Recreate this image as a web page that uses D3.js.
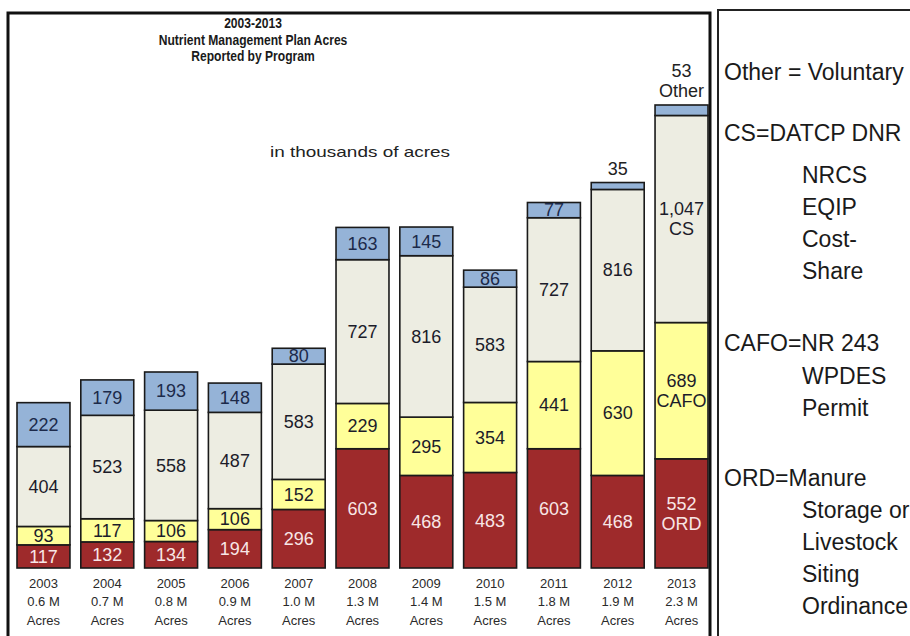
<!DOCTYPE html>
<html>
<head>
<meta charset="utf-8">
<script src="https://cdn.jsdelivr.net/npm/d3@7"></script>
<style>
body { margin: 0; background: #fff; }
svg { display: block; }
</style>
</head>
<body>
<svg></svg>
<script>
var years = ["2003", "2004", "2005", "2006", "2007", "2008", "2009", "2010", "2011", "2012", "2013"];
var acreLabels = ["0.6 M", "0.7 M", "0.8 M", "0.9 M", "1.0 M", "1.3 M", "1.4 M", "1.5 M", "1.8 M", "1.9 M", "2.3 M"];
var ord   = [117, 132, 134, 194, 296, 603, 468, 483, 603, 468, 552];
var cafo  = [93, 117, 106, 106, 152, 229, 295, 354, 441, 630, 689];
var cs    = [404, 523, 558, 487, 583, 727, 816, 583, 727, 816, 1047];
var other = [222, 179, 193, 148, 80, 163, 145, 86, 77, 35, 53];
var seriesKeys = ["ORD", "CAFO", "CS", "Other"];
var taggedYear = "2013";
var titleLines = ["2003-2013", "Nutrient Management Plan Acres", "Reported by Program"];
var unitNote = "in thousands of acres";
var legendGroups = [
    ["Other = Voluntary"],
    ["CS=DATCP DNR", "NRCS", "EQIP", "Cost-", "Share"],
    ["CAFO=NR 243", "WPDES", "Permit"],
    ["ORD=Manure", "Storage or", "Livestock", "Siting", "Ordinance"]
];

var width = 910, height = 636;
var colors = { ORD: "#9e2a2b", CAFO: "#ffff99", CS: "#ededE2", Other: "#95b3d7" };
var textColors = { ORD: "#f8e6e6", CAFO: "#1c1c2a", CS: "#1c1c2a", Other: "#1c2a4a" };
var sans = "'Liberation Sans', Arial, sans-serif";

var svg = d3.select("svg")
    .attr("width", width)
    .attr("height", height);

// panels
svg.append("rect")
    .attr("x", 8).attr("y", 13)
    .attr("width", 702).attr("height", 650)
    .attr("fill", "none").attr("stroke", "#111").attr("stroke-width", 3);

svg.append("rect")
    .attr("x", 718).attr("y", 10)
    .attr("width", 220).attr("height", 650)
    .attr("fill", "none").attr("stroke", "#222").attr("stroke-width", 2);

// build table for the stack
var table = years.map(function (y, i) {
    return { year: y, ORD: ord[i], CAFO: cafo[i], CS: cs[i], Other: other[i] };
});

var stacked = d3.stack().keys(seriesKeys)(table);
var maxTotal = d3.max(table, function (d) { return d.ORD + d.CAFO + d.CS + d.Other; });

var xScale = d3.scaleBand()
    .domain(years)
    .range([17, 708])
    .paddingInner(0.17)
    .paddingOuter(0);

var yScale = d3.scaleLinear()
    .domain([0, maxTotal])
    .range([568, 105]);

var fmt = d3.format(",");

var layers = svg.selectAll("g.layer")
    .data(stacked)
    .enter()
    .append("g")
    .attr("class", "layer");

layers.selectAll("rect")
    .data(function (s) { return s.map(function (d) { return { key: s.key, d: d }; }); })
    .enter()
    .append("rect")
    .attr("x", function (p) { return xScale(p.d.data.year); })
    .attr("width", xScale.bandwidth())
    .attr("y", function (p) { return yScale(p.d[1]); })
    .attr("height", function (p) { return yScale(p.d[0]) - yScale(p.d[1]); })
    .attr("fill", function (p) { return colors[p.key]; })
    .attr("stroke", "#1a1a1a")
    .attr("stroke-width", 1.6);

// segment labels
layers.each(function (s) {
    var g = d3.select(this);
    s.forEach(function (d) {
        var v = d.data[s.key];
        var cx = xScale(d.data.year) + xScale.bandwidth() / 2;
        var top = yScale(d[1]), bot = yScale(d[0]);
        var lines = [fmt(v)];
        if (d.data.year === taggedYear) lines.push(s.key);
        var above = v < 60;
        var lh = 20;
        var cy = above ? top - 6 - (lines.length - 1) * lh - 8 : (top + bot) / 2 - (lines.length - 1) * lh / 2;
        var t = g.append("text")
            .attr("text-anchor", "middle")
            .attr("font-family", sans)
            .attr("font-size", 18)
            .attr("fill", above ? "#222" : textColors[s.key]);
        lines.forEach(function (ln, k) {
            t.append("tspan")
                .attr("x", cx)
                .attr("y", cy + k * lh)
                .attr("dy", "0.35em")
                .text(ln);
        });
    });
});

// category labels under bars
var xl = svg.selectAll("g.xlab")
    .data(years)
    .enter()
    .append("g")
    .attr("class", "xlab")
    .attr("transform", function (d) { return "translate(" + (xScale(d) + xScale.bandwidth() / 2) + ",0)"; });

xl.each(function (d, i) {
    var rows = [d, acreLabels[i], "Acres"];
    var g = d3.select(this);
    rows.forEach(function (r, k) {
        g.append("text")
            .attr("y", 583 + k * 18.5)
            .attr("dy", "0.35em")
            .attr("text-anchor", "middle")
            .attr("font-family", sans)
            .attr("font-size", 13)
            .attr("fill", "#2a2a2a")
            .text(r);
    });
});

// title, squeezed sideways like a narrow font
var titleG = svg.append("g")
    .attr("transform", "translate(253,0) scale(0.78,1)");

titleG.selectAll("text")
    .data(titleLines)
    .enter()
    .append("text")
    .attr("x", 0)
    .attr("y", function (d, i) { return 23 + i * 16.5; })
    .attr("dy", "0.35em")
    .attr("text-anchor", "middle")
    .attr("font-family", sans)
    .attr("font-weight", "bold")
    .attr("font-size", 15.5)
    .attr("fill", "#1a1a1a")
    .text(function (d) { return d; });

svg.append("text")
    .attr("x", 270)
    .attr("y", 152)
    .attr("dy", "0.35em")
    .attr("font-family", sans)
    .attr("font-size", 15)
    .attr("textLength", 180)
    .attr("lengthAdjust", "spacingAndGlyphs")
    .attr("fill", "#222")
    .text(unitNote);

// legend notes
var groupTops = [72, 133, 343, 478];
var subGap = [0, 42, 33, 32];
legendGroups.forEach(function (grp, gi) {
    grp.forEach(function (ln, k) {
        svg.append("text")
            .attr("x", k === 0 ? 724 : 802)
            .attr("y", groupTops[gi] + (k === 0 ? 0 : subGap[gi] + (k - 1) * 32))
            .attr("dy", "0.35em")
            .attr("font-family", sans)
            .attr("font-size", 23)
            .attr("fill", "#1a1a1a")
            .text(ln);
    });
});
</script>
</body>
</html>
